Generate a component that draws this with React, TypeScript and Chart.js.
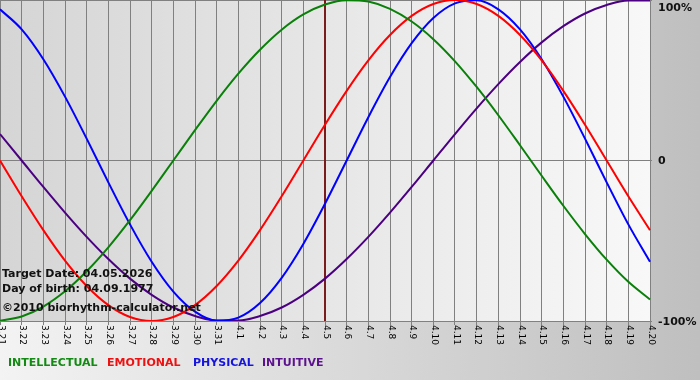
import { useEffect, useRef } from 'react';
import { Chart, registerables } from 'chart.js';

Chart.register(...registerables);

const dayLabels = [
  '3.21', '3.22', '3.23', '3.24', '3.25', '3.26', '3.27', '3.28', '3.29', '3.30', '3.31',
  '4.1', '4.2', '4.3', '4.4', '4.5', '4.6', '4.7', '4.8', '4.9', '4.10',
  '4.11', '4.12', '4.13', '4.14', '4.15', '4.16', '4.17', '4.18', '4.19', '4.20',
];

const intellectual = [
  -0.999, -0.972, -0.910, -0.815, -0.690, -0.541, -0.372, -0.189, 0, 0.189, 0.372,
  0.541, 0.690, 0.815, 0.910, 0.972, 0.999, 0.990, 0.945, 0.866, 0.756,
  0.618, 0.458, 0.282, 0.095, -0.095, -0.282, -0.458, -0.618, -0.756, -0.866,
];

const emotional = [
  0, -0.223, -0.434, -0.624, -0.782, -0.901, -0.975, -1, -0.975, -0.901, -0.782,
  -0.624, -0.434, -0.223, 0, 0.223, 0.434, 0.624, 0.782, 0.901, 0.975,
  1, 0.975, 0.901, 0.782, 0.624, 0.434, 0.223, 0, -0.223, -0.434,
];

const physical = [
  0.942, 0.817, 0.631, 0.398, 0.136, -0.136, -0.398, -0.631, -0.817, -0.942, -0.998,
  -0.979, -0.888, -0.731, -0.520, -0.270, 0, 0.270, 0.520, 0.731, 0.888,
  0.979, 0.998, 0.942, 0.817, 0.631, 0.398, 0.136, -0.136, -0.398, -0.631,
];

const intuitive = [
  0.165, 0, -0.165, -0.325, -0.476, -0.614, -0.736, -0.837, -0.916, -0.969, -0.997,
  -0.997, -0.969, -0.916, -0.837, -0.736, -0.614, -0.476, -0.325, -0.165, 0,
  0.165, 0.325, 0.476, 0.614, 0.736, 0.837, 0.916, 0.969, 0.997, 0.997,
];

const targetDay = '4.5';
const yTickLabels: Record<string, string> = { '1': '100%', '0': '0', '-1': '-100%' };
const infoLines = ['Target Date: 04.05.2026', 'Day of birth: 04.09.1977', '\u00a92010 biorhythm-calculator.net'];
const legendNames = ['INTELLECTUAL', 'EMOTIONAL', 'PHYSICAL', 'INTUITIVE'];
const legendColors = ['#138a13', '#ee1111', '#1515dd', '#5c118f'];
const legendX = [8, 107, 193, 262];
const lineColors = ['#0a800a', '#ff0000', '#0000ff', '#4b0082'];

const FONT = '"DejaVu Sans", Verdana, sans-serif';

const decorPlugin = {
  id: 'decor',
  beforeDraw(chart: any) {
    const { ctx, width, height, chartArea } = chart;
    ctx.save();
    const g = ctx.createLinearGradient(0, 0, width, 0);
    g.addColorStop(0, '#f3f3f3');
    g.addColorStop(1, '#bfbfbf');
    ctx.fillStyle = g;
    ctx.fillRect(0, 0, width, height);
    const g2 = ctx.createLinearGradient(chartArea.left, 0, chartArea.right, 0);
    g2.addColorStop(0, '#d5d5d5');
    g2.addColorStop(1, '#f8f8f8');
    ctx.fillStyle = g2;
    ctx.fillRect(chartArea.left, chartArea.top, chartArea.right - chartArea.left, chartArea.bottom - chartArea.top);
    ctx.restore();
  },
  beforeDatasetsDraw(chart: any) {
    const { ctx, chartArea, scales } = chart;
    const x = scales.x.getPixelForValue(dayLabels.indexOf(targetDay));
    ctx.save();
    ctx.strokeStyle = '#7a1c1c';
    ctx.lineWidth = 2;
    ctx.beginPath();
    ctx.moveTo(x, chartArea.top);
    ctx.lineTo(x, chartArea.bottom);
    ctx.stroke();
    ctx.restore();
  },
  afterDatasetsDraw(chart: any) {
    const { ctx } = chart;
    ctx.save();
    ctx.font = 'bold 11px ' + FONT;
    ctx.fillStyle = '#111';
    ctx.textBaseline = 'alphabetic';
    ctx.textAlign = 'left';
    ctx.fillText(infoLines[0], 2, 277);
    ctx.fillText(infoLines[1], 2, 292);
    ctx.fillText(infoLines[2], 2, 311);
    ctx.restore();
  },
  afterDraw(chart: any) {
    const { ctx, chartArea, scales } = chart;
    ctx.save();
    ctx.font = '9px ' + FONT;
    ctx.fillStyle = '#000';
    ctx.textAlign = 'left';
    ctx.textBaseline = 'middle';
    dayLabels.forEach((lab, i) => {
      const x = scales.x.getPixelForValue(i);
      ctx.save();
      ctx.translate(x + 1, chartArea.bottom + 4);
      ctx.rotate(Math.PI / 2);
      ctx.fillText(lab, 0, 0);
      ctx.restore();
    });
    ctx.font = 'bold 11px ' + FONT;
    ctx.fillStyle = '#111';
    [1, 0, -1].forEach((v) => {
      let y = scales.y.getPixelForValue(v);
      if (y < 7) y = 7;
      ctx.fillText(yTickLabels[String(v)], chartArea.right + 8, y + 1);
    });
    ctx.textBaseline = 'alphabetic';
    legendNames.forEach((n, i) => {
      ctx.fillStyle = legendColors[i];
      ctx.fillText(n, legendX[i], 366);
    });
    ctx.restore();
  },
};

export default function App() {
  const ref = useRef<HTMLCanvasElement | null>(null);
  useEffect(() => {
    if (!ref.current) return;
    const series = [intellectual, emotional, physical, intuitive];
    const chart = new Chart(ref.current, {
      type: 'line',
      data: {
        labels: dayLabels,
        datasets: series.map((d, i) => ({
          label: legendNames[i],
          data: d,
          borderColor: lineColors[i],
          borderWidth: 2,
          pointRadius: 0,
          cubicInterpolationMode: 'monotone',
          fill: false,
        })),
      },
      options: {
        responsive: false,
        devicePixelRatio: 1,
        animation: false,
        layout: { padding: 0 },
        plugins: { legend: { display: false }, tooltip: { enabled: false } },
        scales: {
          x: {
            type: 'category',
            offset: false,
            grid: { color: '#808080', lineWidth: 1, tickLength: 4, drawTicks: true },
            border: { color: '#808080' },
            ticks: { display: false, autoSkip: false },
            afterFit: (s: any) => { s.height = 59; },
          },
          y: {
            position: 'right',
            min: -1,
            max: 1,
            grid: { color: '#808080', lineWidth: 1, tickLength: 2, drawTicks: true },
            border: { color: '#808080' },
            ticks: { display: false, stepSize: 1 },
            afterFit: (s: any) => { s.width = 50; },
          },
        },
      },
      plugins: [decorPlugin],
    } as any);
    return () => chart.destroy();
  }, []);
  return (
    <div style={{ position: 'absolute', left: 0, top: 0, width: 700, height: 380 }}>
      <canvas ref={ref} width={700} height={380} style={{ display: 'block', width: 700, height: 380 }} />
    </div>
  );
}
